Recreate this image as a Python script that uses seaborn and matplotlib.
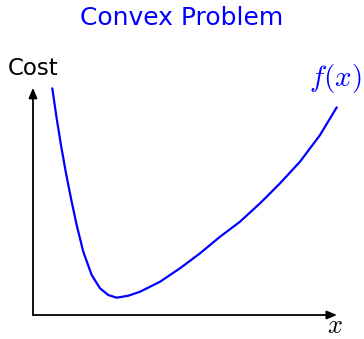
import matplotlib
matplotlib.use("Agg")
import matplotlib.pyplot as plt
import seaborn as sns
import pandas as pd

# curve (axis units)
x_vals = [0.382, 0.469, 0.554, 0.648, 0.752, 0.865, 0.996, 1.162, 1.327, 1.491,
          1.657, 1.887, 2.119, 2.515, 2.911, 3.307, 3.703, 4.099, 4.495, 4.628,
          4.891, 5.287, 5.683, 6.014]
cost_vals = [4.489, 3.895, 3.366, 2.838, 2.311, 1.782, 1.253, 0.792, 0.529, 0.396,
             0.343, 0.382, 0.461, 0.659, 0.925, 1.222, 1.550, 1.848, 2.212, 2.343,
             2.608, 3.036, 3.564, 4.113]
title = "Convex Problem"
y_label = "Cost"
x_label = "$x$"
curve_label = "$f(x)$"

sns.set_style("white")
plt.rcParams["mathtext.fontset"] = "cm"
plt.rcParams["font.family"] = ["DejaVu Sans"]

df = pd.DataFrame({"x": x_vals, "cost": cost_vals})

fig = plt.figure(figsize=(3.64, 3.39), dpi=100)
ax = fig.add_axes([0, 0, 1, 1])
sns.lineplot(data=df, x="x", y="cost", sort=False, color="#0000ff", linewidth=1.6, ax=ax)
for line in ax.lines:
    line.set_solid_joinstyle("round")

ax.set_xlim(-0.653, 6.554)
ax.set_ylim(-0.475, 6.238)
ax.axis("off")

arrow = dict(arrowstyle="-|>,head_length=0.6,head_width=0.25", color="black", lw=1.3,
             shrinkA=0, shrinkB=0)
ax.annotate("", xy=(6.02, 0), xytext=(0, 0), arrowprops=arrow)
ax.annotate("", xy=(0, 4.50), xytext=(0, 0), arrowprops=arrow)

ax.text(0.0, 4.89, y_label, ha="center", va="center", fontsize=16.5, color="black")
ax.text(5.98, 4.68, curve_label, ha="center", va="center", fontsize=21, color="#0000ff")
ax.text(5.98, -0.21, x_label, ha="center", va="center", fontsize=19, color="black")
ax.text(2.95, 5.88, title, ha="center", va="center", fontsize=18, color="#0000ff")

fig.savefig("out.png", dpi=100)
